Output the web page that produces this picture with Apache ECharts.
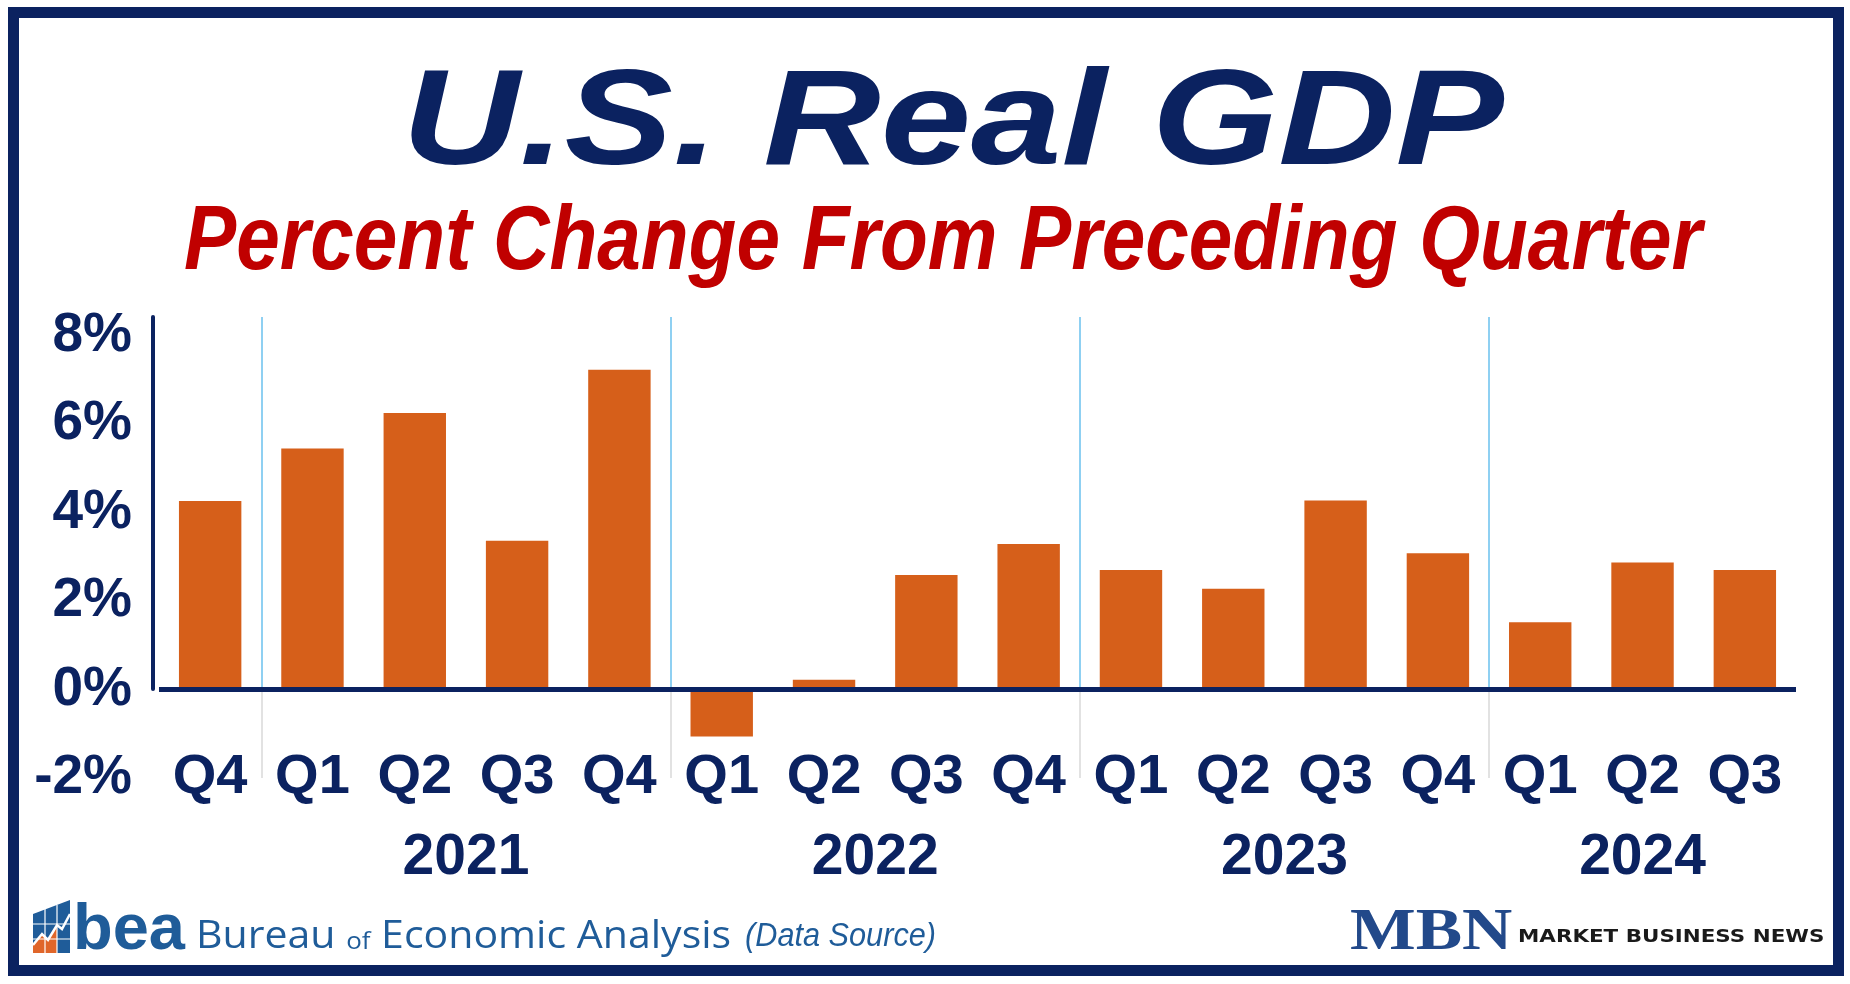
<!DOCTYPE html>
<html><head><meta charset="utf-8">
<script src="https://cdn.jsdelivr.net/npm/echarts@6/dist/echarts.min.js"></script>
<style>html,body{margin:0;padding:0;background:#fff}#c{width:1850px;height:984px}</style>
</head><body><div id="c"></div>
<script>
// ---- data ----
const quarters = ['Q4','Q1','Q2','Q3','Q4','Q1','Q2','Q3','Q4','Q1','Q2','Q3','Q4','Q1','Q2','Q3'];
const quarterYears = [2020,2021,2021,2021,2021,2022,2022,2022,2022,2023,2023,2023,2023,2024,2024,2024];
const gdpChange = [4.26,5.45,6.25,3.36,7.23,-1.06,0.22,2.59,3.29,2.70,2.28,4.27,3.08,1.52,2.87,2.70];
const yearLabels = ['2021','2022','2023','2024'];
const yTicks = [-2,0,2,4,6,8];

// ---- styling ----
const NAVY = '#0B2260';
const RED = '#C00000';
const BAR = '#D65F1A';
const SANS = '"Liberation Sans", Arial, sans-serif';
const Y_MIN = -2, Y_MAX = 8.42;

const yearCenters = yearLabels.map(y => {
  const idx = quarterYears.map((v, i) => (v === +y ? i : -1)).filter(i => i >= 0);
  return idx.reduce((a, b) => a + b, 0) / idx.length;
});
// boundaries between years, in category units (between index i-1 and i)
const yearBreaks = quarterYears.map((v, i) => (i > 0 && v !== quarterYears[i - 1] ? i - 0.5 : null)).filter(v => v !== null);

const separatorLines = [];
yearBreaks.forEach(b => {
  separatorLines.push([{ coord: [b, 0], lineStyle: { color: '#8FD0F2', width: 2, type: 'solid' } }, { coord: [b, Y_MAX] }]);
  separatorLines.push([{ coord: [b, Y_MIN], lineStyle: { color: '#D9D9D9', width: 1.5, type: 'solid' } }, { coord: [b, 0] }]);
});
const xStart = -0.5, xEnd = quarters.length - 0.5;

const chart = echarts.init(document.getElementById('c'));
const option = {
  animation: false,
  backgroundColor: '#fff',
  grid: [
    { left: 159, right: 54, top: 317, bottom: 206, outerBoundsMode: 'none' },
    { left: 159, right: 54, top: 317, bottom: 295, outerBoundsMode: 'none' }
  ],
  xAxis: [
    {
      type: 'category', gridIndex: 0, data: quarters, position: 'bottom',
      axisLine: { show: false }, axisTick: { show: false }, splitLine: { show: false },
      axisLabel: { interval: 0, color: NAVY, fontSize: 56, fontWeight: 'bold', fontFamily: SANS, margin: 0, verticalAlign: 'middle' }
    },
    {
      type: 'value', gridIndex: 0, min: xStart, max: xEnd, interval: 0.5, position: 'bottom',
      axisLine: { show: false }, axisTick: { show: false }, splitLine: { show: false },
      axisLabel: {
        color: NAVY, fontSize: 57, fontWeight: 'bold', fontFamily: SANS,
        margin: 80, verticalAlign: 'middle',
        formatter: (v) => { const k = yearCenters.findIndex(c => Math.abs(c - v) < 1e-6); return k >= 0 ? yearLabels[k] : ''; }
      }
    },
    {
      type: 'category', gridIndex: 1, data: quarters,
      axisLine: { show: false }, axisTick: { show: false }, axisLabel: { show: false }, splitLine: { show: false }
    }
  ],
  yAxis: [
    {
      type: 'value', gridIndex: 0, min: Y_MIN, max: Y_MAX, interval: 2,
      axisLine: { show: false }, axisTick: { show: false }, splitLine: { show: false },
      axisLabel: { color: NAVY, fontSize: 55, fontWeight: 'bold', fontFamily: SANS, margin: 27,
        formatter: (v) => (yTicks.includes(v) ? v + '%' : '') }
    },
    {
      type: 'value', gridIndex: 1, min: 0, max: Y_MAX, offset: 6, z: 3,
      axisLine: { show: true, lineStyle: { color: NAVY, width: 4 } },
      axisTick: { show: false }, axisLabel: { show: false }, splitLine: { show: false }
    }
  ],
  series: [
    {
      type: 'line', xAxisIndex: 1, yAxisIndex: 0, data: [], silent: true, z: 1,
      markLine: { symbol: 'none', silent: true, label: { show: false }, data: separatorLines }
    },
    {
      type: 'bar', xAxisIndex: 0, yAxisIndex: 0, data: gdpChange, barWidth: '61%', z: 2,
      itemStyle: { color: BAR },
      markLine: { symbol: 'none', silent: true, label: { show: false },
        lineStyle: { color: NAVY, width: 5, type: 'solid' }, data: [{ yAxis: 0 }] }
    }
  ],
  graphic: [
    { type: 'rect', shape: { x: 13.5, y: 12.5, width: 1825, height: 958 }, style: { fill: 'none', stroke: NAVY, lineWidth: 11 } },
    { type: 'text', x: 953, y: 126, scaleX: 1.195,
      style: { text: 'U.S. Real GDP', fontSize: 136, fontWeight: 'bold', fontStyle: 'italic', fontFamily: SANS, fill: NAVY, align: 'center', verticalAlign: 'middle' } },
    { type: 'text', x: 943, y: 244, scaleX: 0.86,
      style: { text: 'Percent Change From Preceding Quarter', fontSize: 91, fontWeight: 'bold', fontStyle: 'italic', fontFamily: SANS, fill: RED, align: 'center', verticalAlign: 'middle' } },
    // BEA icon
    { type: 'polygon', shape: { points: [[33,914],[70,900],[70,953],[33,953]] }, style: { fill: '#1F5C99' } },
    { type: 'polygon', shape: { points: [[33,945],[42,934],[48,940],[57,925],[57,953],[33,953]] }, style: { fill: '#E0662A' } },
    { type: 'line', shape: { x1: 45, y1: 909, x2: 45, y2: 953 }, style: { stroke: '#fff', lineWidth: 1.2 } },
    { type: 'line', shape: { x1: 57, y1: 905, x2: 57, y2: 953 }, style: { stroke: '#fff', lineWidth: 1.2 } },
    { type: 'line', shape: { x1: 33, y1: 924, x2: 70, y2: 924 }, style: { stroke: '#fff', lineWidth: 1.2 } },
    { type: 'line', shape: { x1: 33, y1: 939, x2: 70, y2: 939 }, style: { stroke: '#fff', lineWidth: 1.2 } },
    { type: 'polyline', shape: { points: [[33,945],[42,934],[48,940],[57,925],[62,929],[70,914]] }, style: { stroke: '#fff', lineWidth: 2.5, fill: 'none' } },
    { type: 'text', x: 73, y: 931,
      style: { text: 'bea', fontSize: 65, fontWeight: 'bold', fontFamily: SANS, fill: '#1F5C99', align: 'left', verticalAlign: 'middle' } },
    { type: 'text', x: 196, y: 937, scaleX: 1.08,
      style: { text: '{a|Bureau }{b|of}{a| Economic Analysis}', fill: '#1F5C99', align: 'left', verticalAlign: 'middle',
        rich: { a: { fontSize: 38, fontFamily: '"Open Sans", sans-serif', fill: '#1F5C99' }, b: { fontSize: 24, fontFamily: '"Open Sans", sans-serif', fill: '#1F5C99', padding: [10, 0, 0, 0] } } } },
    { type: 'text', x: 745, y: 937, scaleX: 0.93,
      style: { text: '(Data Source)', fontSize: 33, fontStyle: 'italic', fontFamily: SANS, fill: '#1F5C99', align: 'left', verticalAlign: 'middle' } },
    // MBN
    { type: 'text', x: 1350, y: 933, scaleX: 1.16,
      style: { text: 'MBN', fontSize: 60, fontWeight: 'bold', fontFamily: '"Liberation Serif", "Times New Roman", serif', fill: '#22498A', align: 'left', verticalAlign: 'middle' } },
    { type: 'text', x: 1518, y: 938, scaleX: 1.26,
      style: { text: 'MARKET BUSINESS NEWS', fontSize: 17, fontWeight: 'bold', fontFamily: '"DejaVu Sans", sans-serif', fill: '#1a1a1a', align: 'left', verticalAlign: 'middle' } }
  ]
};
chart.setOption(option);
</script>
</body></html>
